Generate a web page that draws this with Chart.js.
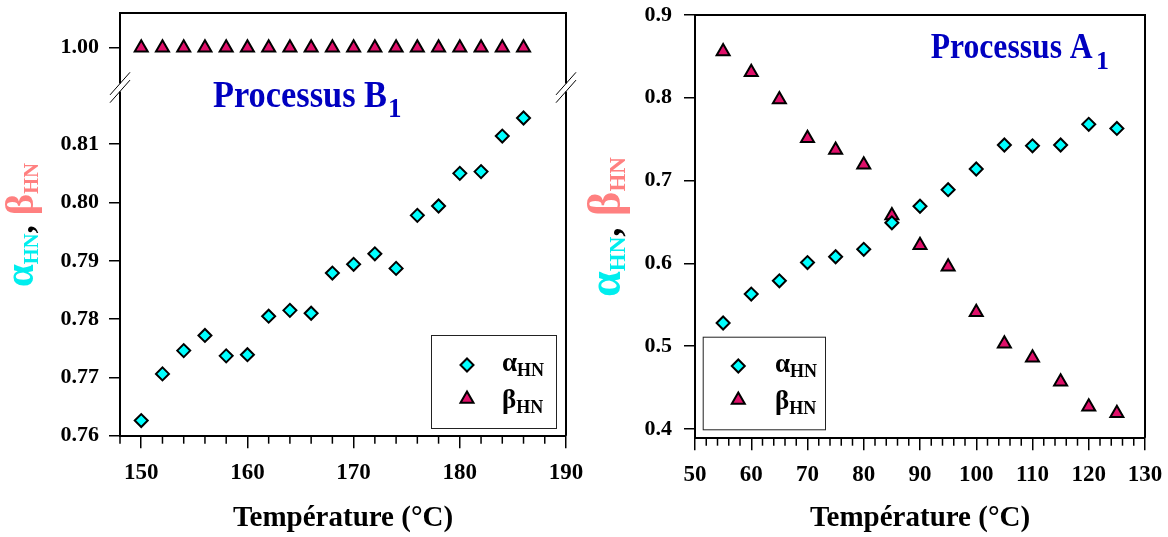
<!DOCTYPE html>
<html><head><meta charset="utf-8">
<script src="https://cdn.jsdelivr.net/npm/chart.js@4.4.1/dist/chart.umd.min.js"></script>
<style>
html,body{margin:0;padding:0;background:#fff;}
#wrap{position:relative;width:1168px;height:537px;overflow:hidden;}
.cv{position:absolute;top:0;width:584px;height:537px;}
#b1{left:0;} #b2{left:584px;}
</style></head><body>
<div id="wrap"><div class="cv" id="b1"><canvas id="c1" width="584" height="537"></canvas></div><div class="cv" id="b2"><canvas id="c2" width="584" height="537"></canvas></div></div>
<script>
// ---- data: Processus B1 (left) ----
const tempB  = [150,152,154,156,158,160,162,164,166,168,170,172,174,176,178,180,182,184,186];
const alphaB = [0.7626,0.7706,0.7746,0.7772,0.7737,0.7739,0.7805,0.7815,0.7810,0.7879,0.7894,0.7912,0.7887,0.7978,0.7994,0.8050,0.8053,0.8114,0.8145];
const betaB  = [1.00,1.00,1.00,1.00,1.00,1.00,1.00,1.00,1.00,1.00,1.00,1.00,1.00,1.00,1.00,1.00,1.00,1.00,1.00];
// ---- data: Processus A1 (right) ----
const tempA  = [55,60,65,70,75,80,85,90,95,100,105,110,115,120,125];
const alphaA = [0.528,0.563,0.579,0.601,0.608,0.617,0.649,0.669,0.689,0.714,0.743,0.742,0.743,0.768,0.763];
const betaA  = [0.856,0.831,0.798,0.751,0.737,0.719,0.658,0.622,0.596,0.541,0.503,0.486,0.457,0.427,0.419];
// ---- tick labels ----
const xTicksB = [150,160,170,180,190];
const yTicksBLow = [0.76,0.77,0.78,0.79,0.80,0.81];
const yTicksBHigh = [1.00];
const xTicksA = [50,60,70,80,90,100,110,120,130];
const yTicksA = [0.4,0.5,0.6,0.7,0.8,0.9];
const labelAlpha = 'αHN', labelBeta = 'βHN';

const FONT = '"Liberation Serif", "Times New Roman", serif';
const CYAN = '#00ffff', PINK = '#e0106a', BLUE = '#0000c0';
const TITLE_CYAN = '#00eeee', TITLE_SALMON = '#ff8080';

function setTicks(arr){ return s => { s.ticks = arr.map(v => ({value:v})); }; }
function zeroPad(s){ s.paddingTop = 0; s.paddingBottom = 0; s.paddingLeft = 0; s.paddingRight = 0; }

function pointDs(label, xs, ys, style, color, radius, yID){
  return {label, data: xs.map((t,i)=>({x:t, y:ys[i]})), pointStyle: style, pointRadius: radius, pointHoverRadius: radius,
    pointBorderWidth: 2, pointBackgroundColor: color, pointBorderColor: '#000', showLine: false, yAxisID: yID};
}

function drawMarker(ctx, style, r, color, x, y){
  ctx.save();
  ctx.fillStyle = color; ctx.strokeStyle = '#000'; ctx.lineWidth = 2;
  if (Chart.helpers && Chart.helpers.drawPoint) {
    Chart.helpers.drawPoint(ctx, {pointStyle: style, radius: r, borderWidth: 2, rotation: 0}, x, y);
  } else {
    ctx.beginPath();
    if (style === 'rectRot') { ctx.moveTo(x-r,y); ctx.lineTo(x,y-r); ctx.lineTo(x+r,y); ctx.lineTo(x,y+r); }
    else { ctx.moveTo(x, y-r); ctx.lineTo(x+r*0.866, y+r/2); ctx.lineTo(x-r*0.866, y+r/2); }
    ctx.closePath(); ctx.fill(); ctx.stroke();
  }
  ctx.restore();
}

function drawYTitle(ctx, bx, cy, target, S, s){
  const parts = [
    {t:'α', size:S, color:TITLE_CYAN, dy:0},
    {t:'HN', size:s, color:TITLE_CYAN, dy:5},
    {t:',', size:S*0.8, color:'#000', dy:0},
    {t:' ', size:S, color:'#000', dy:0},
    {t:'β', size:S, color:TITLE_SALMON, dy:0},
    {t:'HN', size:s, color:TITLE_SALMON, dy:5}
  ];
  ctx.save();
  let total = 0;
  parts.forEach(p => { ctx.font = 'bold ' + p.size + 'px ' + FONT; p.w = ctx.measureText(p.t).width; total += p.w; });
  const k = target / total;
  ctx.translate(bx, cy); ctx.rotate(-Math.PI/2); ctx.scale(k, k);
  ctx.textAlign = 'left'; ctx.textBaseline = 'alphabetic';
  let x = -total/2;
  parts.forEach(p => { ctx.font = 'bold ' + p.size + 'px ' + FONT; ctx.fillStyle = p.color; ctx.fillText(p.t, x, p.dy); x += p.w; });
  ctx.restore();
}

function drawProc(ctx, o){
  ctx.save();
  ctx.fillStyle = BLUE; ctx.textBaseline = 'alphabetic'; ctx.textAlign = 'left';
  ctx.font = 'bold ' + o.size + 'px ' + FONT;
  const w = ctx.measureText(o.text).width;
  ctx.translate(o.x, o.y); ctx.scale(o.width / w, 1);
  ctx.fillText(o.text, 0, 0);
  ctx.restore();
  ctx.save();
  ctx.fillStyle = BLUE; ctx.font = 'bold ' + o.subSize + 'px ' + FONT;
  ctx.fillText(o.sub, o.subX, o.subY);
  ctx.restore();
}

function drawLegend(ctx, L, chart){
  ctx.save();
  ctx.fillStyle = '#fff'; ctx.fillRect(L.x, L.y, L.w, L.h);
  ctx.strokeStyle = '#222'; ctx.lineWidth = 1; ctx.strokeRect(L.x+0.5, L.y+0.5, L.w, L.h);
  const ds = chart.data.datasets;
  const rows = [{d: ds[0], y: L.row1}, {d: ds[1], y: L.row2}];
  rows.forEach((r, i) => {
    drawMarker(ctx, r.d.pointStyle, r.d.pointRadius, r.d.pointBackgroundColor, L.mx, r.y);
    const main = r.d.label.charAt(0), sub = r.d.label.slice(1);
    ctx.fillStyle = '#000'; ctx.textAlign = 'left'; ctx.textBaseline = 'alphabetic';
    ctx.font = 'bold 27px ' + FONT;
    const base = r.y + (i === 0 ? 6 : 9);
    ctx.fillText(main, L.tx, base);
    const mw = ctx.measureText(main).width;
    ctx.font = 'bold 18px ' + FONT;
    ctx.fillText(sub, L.tx + mw, base + 5);
  });
  ctx.restore();
}

const decoPlugin = {
  id: 'deco',
  afterDraw(chart, args, o){
    const ctx = chart.ctx, ca = chart.chartArea, xs = chart.scales.x;
    ctx.save();
    // frame top and right
    ctx.strokeStyle = '#000'; ctx.lineWidth = 2;
    ctx.beginPath(); ctx.moveTo(ca.left, ca.top); ctx.lineTo(ca.right, ca.top); ctx.lineTo(ca.right, ca.bottom); ctx.stroke();
    // minor x ticks
    ctx.lineWidth = 1.5;
    for (let v = xs.min; v <= xs.max + 1e-9; v += o.minorStep) {
      if (Math.abs(v % o.majorStep) < 1e-9) continue;
      const px = xs.getPixelForValue(v);
      ctx.beginPath(); ctx.moveTo(px, ca.bottom); ctx.lineTo(px, ca.bottom + 8); ctx.stroke();
    }
    // axis break
    if (o.breakScale) {
      const b = chart.scales[o.breakScale].bottom;
      [ca.left, ca.right].forEach(x => {
        ctx.fillStyle = '#fff'; ctx.fillRect(x - 3, b - 4, 6, 8);
        ctx.strokeStyle = '#000'; ctx.lineWidth = 1;
        [-3.9, 3.9].forEach(off => {
          ctx.beginPath(); ctx.moveTo(x - 10, b + off + 11.3); ctx.lineTo(x + 10, b + off - 11.3); ctx.stroke();
        });
      });
    }
    ctx.restore();
    drawProc(ctx, o.proc);
    drawLegend(ctx, o.legend, chart);
    drawYTitle(ctx, o.ytitle.x, o.ytitle.y, o.ytitle.len, o.ytitle.S, o.ytitle.s);
  }
};

function yAxis(extra, ticks, width, dec, pad){
  return Object.assign({
    type: 'linear', position: 'left',
    afterBuildTicks: setTicks(ticks),
    afterFit: s => { s.width = width; zeroPad(s); },
    grid: {drawOnChartArea: false, drawTicks: true, tickLength: 11, color: '#000', lineWidth: 1.5},
    border: {display: true, color: '#000', width: 2},
    ticks: {color: '#000', padding: pad, font: {family: FONT, weight: 'bold', size: 22}, callback: v => Number(v).toFixed(dec)}
  }, extra);
}
function xAxis(min, max, ticks, height){
  return {
    type: 'linear', position: 'bottom', min, max,
    afterBuildTicks: setTicks(ticks),
    afterFit: s => { s.height = height; zeroPad(s); },
    grid: {drawOnChartArea: false, drawTicks: true, tickLength: 12.5, color: '#000', lineWidth: 1.5},
    border: {display: true, color: '#000', width: 2},
    ticks: {color: '#000', padding: 11, maxRotation: 0, autoSkip: false, font: {family: FONT, weight: 'bold', size: 23}, callback: v => String(v)},
    title: {display: true, text: 'Température (°C)', color: '#000', font: {family: FONT, weight: 'bold', size: 29}, padding: {top: 0, bottom: 1}}
  };
}

const common = {
  responsive: false, animation: false, devicePixelRatio: 1,
  plugins: {legend: {display: false}, tooltip: {enabled: false}, title: {display: false}}
};

new Chart(document.getElementById('c1'), {
  type: 'scatter',
  data: {datasets: [
    pointDs(labelAlpha, tempB, alphaB, 'rectRot', CYAN, 6.5, 'yBot'),
    pointDs(labelBeta, tempB, betaB, 'triangle', PINK, 7.5, 'yTop')
  ]},
  options: Object.assign({}, common, {
    layout: {padding: {left: 0, right: 18, top: 13, bottom: 0}},
    scales: {
      x: xAxis(148, 190, xTicksB, 101.3),
      yBot: yAxis({stack: 'L', stackWeight: 348.2, min: 0.76, max: 0.81973}, yTicksBLow, 120, 2, 10),
      yTop: yAxis({stack: 'L', stackWeight: 74.5, min: 0.99317, max: 1.00595}, yTicksBHigh, 120, 2, 10)
    },
    plugins: Object.assign({}, common.plugins, {deco: {
      minorStep: 2, majorStep: 10, breakScale: 'yTop',
      proc: {text: 'Processus B', x: 213, y: 106.7, size: 37, width: 174, sub: '1', subX: 388, subY: 116.7, subSize: 27},
      legend: {x: 431, y: 335, w: 125, h: 93, mx: 467, tx: 502, row1: 365, row2: 399},
      ytitle: {x: 33, y: 225, len: 124, S: 40, s: 20}
    }})
  }),
  plugins: [decoPlugin]
});

new Chart(document.getElementById('c2'), {
  type: 'scatter',
  data: {datasets: [
    pointDs(labelAlpha, tempA, alphaA, 'rectRot', CYAN, 6.5, 'y'),
    pointDs(labelBeta, tempA, betaA, 'triangle', PINK, 7.5, 'y')
  ]},
  options: Object.assign({}, common, {
    layout: {padding: {left: 0, right: 23, top: 15, bottom: 0}},
    scales: {
      x: xAxis(50, 130, xTicksA, 99.3),
      y: yAxis({min: 0.3895, max: 0.9}, yTicksA, 111, 1, 12)
    },
    plugins: Object.assign({}, common.plugins, {deco: {
      minorStep: 2, majorStep: 10, breakScale: null,
      proc: {text: 'Processus A', x: 346.7, y: 58.3, size: 35, width: 162, sub: '1', subX: 512, subY: 69.3, subSize: 26},
      legend: {x: 118.7, y: 336.7, w: 122.3, h: 92.6, mx: 154.3, tx: 191, row1: 366, row2: 400},
      ytitle: {x: 36, y: 227, len: 140, S: 42, s: 21}
    }})
  }),
  plugins: [decoPlugin]
});
</script>
</body></html>
